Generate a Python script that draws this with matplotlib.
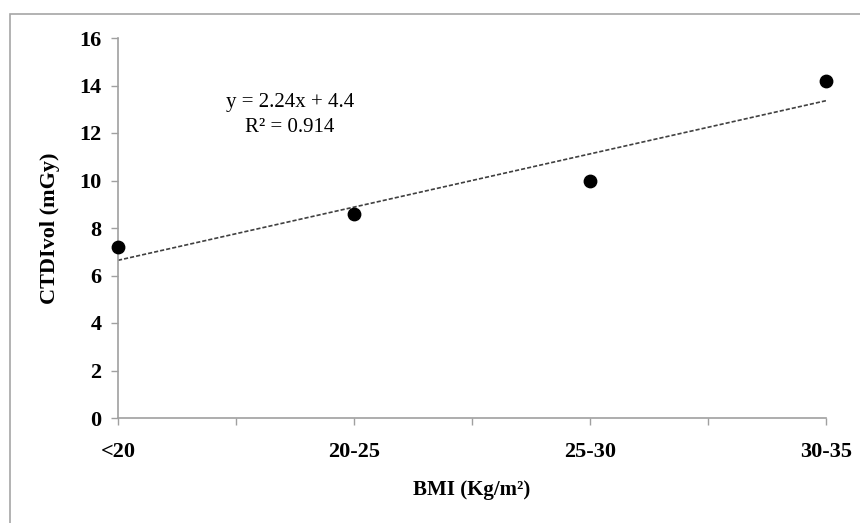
import matplotlib
matplotlib.use('Agg')
import matplotlib.pyplot as plt
from matplotlib.patches import Rectangle
from matplotlib.ticker import FixedLocator

# BMI groups and mean CTDIvol
categories = ['<20', '20-25', '25-30', '30-35']
ctdi_values = [7.2, 8.6, 10.0, 14.2]
y_ticks = [0, 2, 4, 6, 8, 10, 12, 14, 16]

plt.rcParams['font.family'] = ['Liberation Serif', 'DejaVu Serif']

W, H = 860, 523
fig = plt.figure(figsize=(W / 100, H / 100), dpi=100)
ax = fig.add_axes([118 / W, 1 - 418 / H, (826 - 118) / W, (418 - 38) / H])

# outer frame of the chart area
fig.patches.append(Rectangle((10 / W, -0.05), 1.1, 1 - 14 / H + 0.05,
                             transform=fig.transFigure, fill=False,
                             edgecolor='#a6a6a6', linewidth=1.2, clip_on=False))

xs = list(range(len(categories)))
ax.scatter(xs, ctdi_values, s=80, color='black', zorder=3, clip_on=False)

# linear trend (Excel style, x = 1..n)
n = len(ctdi_values)
xn = [i + 1 for i in xs]
mx = sum(xn) / n
my = sum(ctdi_values) / n
slope = sum((a - mx) * (b - my) for a, b in zip(xn, ctdi_values)) / sum((a - mx) ** 2 for a in xn)
intercept = my - slope * mx
fit = [slope * a + intercept for a in xn]
ss_res = sum((b - f) ** 2 for b, f in zip(ctdi_values, fit))
ss_tot = sum((b - my) ** 2 for b in ctdi_values)
r2 = 1 - ss_res / ss_tot
ax.plot([xs[0], xs[-1]], [fit[0], fit[-1]], color='#404040', linewidth=1.2,
        linestyle=(0, (2.5, 1.2)), zorder=2)

fig.text(290 / W, 1 - 103 / H, 'y = %.2fx + %.1f' % (slope, intercept),
         fontsize=15, ha='center', va='center')
fig.text(290 / W, 1 - 128 / H, 'R\u00b2 = %.3f' % r2,
         fontsize=15, ha='center', va='center')

ax.set_xlim(0, 3)
ax.set_ylim(0, 16)
ax.set_xticks(xs)
ax.set_xticklabels(categories)
ax.xaxis.set_minor_locator(FixedLocator([0.5, 1.5, 2.5]))
ax.set_yticks(y_ticks)

for side in ['top', 'right']:
    ax.spines[side].set_visible(False)
for side in ['left', 'bottom']:
    ax.spines[side].set_color('#a0a0a0')
    ax.spines[side].set_linewidth(1.2)

ax.tick_params(axis='x', which='both', direction='out', length=5, width=1,
               color='#a0a0a0', pad=12, labelsize=16)
ax.tick_params(axis='y', direction='out', length=5, width=1,
               color='#a0a0a0', pad=7, labelsize=16)
for lbl in ax.get_xticklabels() + ax.get_yticklabels():
    lbl.set_fontweight('bold')

ax.set_xlabel('BMI (Kg/m\u00b2)', fontsize=15, fontweight='bold', labelpad=13)
ax.set_ylabel('CTDIvol (mGy)', fontsize=16, fontweight='bold', labelpad=14)

fig.savefig('out.png', dpi=100)
